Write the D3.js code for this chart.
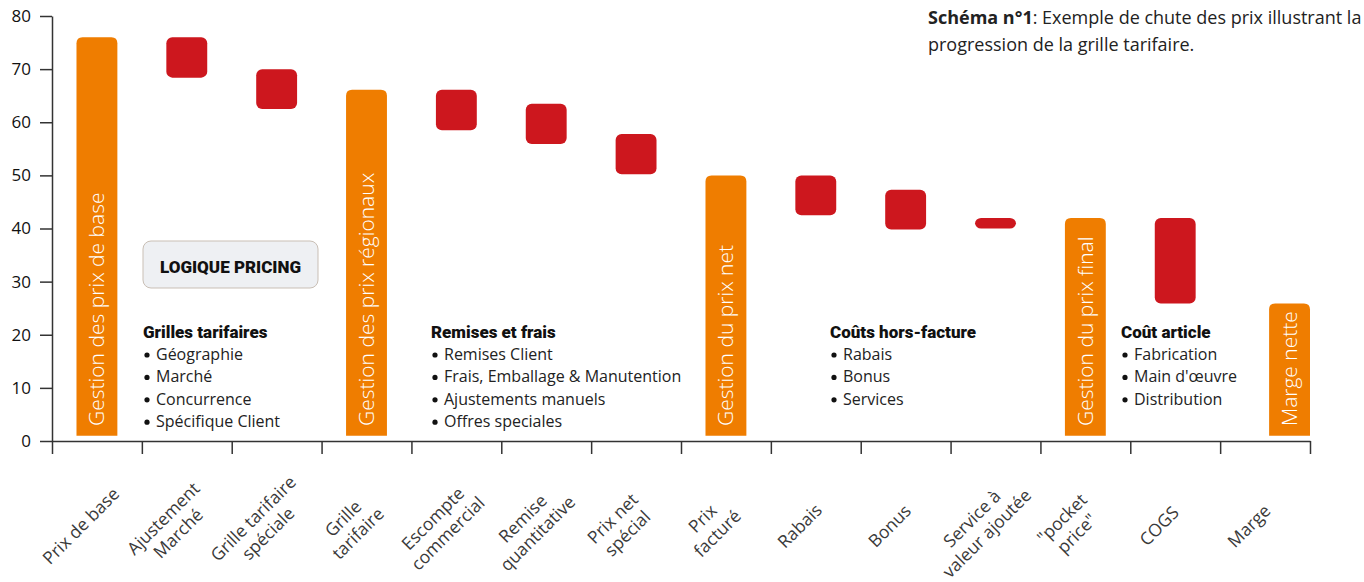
<!DOCTYPE html>
<meta charset="utf-8">
<script src="https://d3js.org/d3.v7.min.js"></script>
<style>
  body { margin: 0; background: #fff; }
  text { font-family: "Open Sans", "Noto Sans", sans-serif; }
  .head { font-family: Roboto, "Liberation Sans Narrow", sans-serif; font-weight: 900; }
</style>
<body>
<div id="chart"></div>
<script>
// categories and waterfall values (start -> end)
var categories = ["Prix de base", "Ajustement|Marché", "Grille tarifaire|spéciale", "Grille|tarifaire",
  "Escompte|commercial", "Remise|quantitative", "Prix net|spécial", "Prix|facturé", "Rabais", "Bonus",
  "Service à|valeur ajoutée", "\"pocket|price\"", "COGS", "Marge"];
var kinds = ["total", "drop", "drop", "total", "drop", "drop", "drop", "total", "drop", "drop", "drop", "total", "drop", "total"];
var startVals = [1, 76, 70, 1, 66.1, 63.5, 57.8, 1, 50, 47.3, 42, 1, 42, 1];
var endVals = [76, 68.4, 62.5, 66.1, 58.5, 55.9, 50.2, 50, 42.5, 39.8, 40, 42, 25.9, 25.9];
var barLabels = ["Gestion des prix de base", "", "", "Gestion des prix régionaux", "", "", "",
  "Gestion du prix net", "", "", "", "Gestion du prix final", "", "Marge nette"];
var yTicks = [0, 10, 20, 30, 40, 50, 60, 70, 80];

var notes = [
  {x: 143, y: 338, title: "Grilles tarifaires", items: ["Géographie", "Marché", "Concurrence", "Spécifique Client"]},
  {x: 431, y: 338, title: "Remises et frais", items: ["Remises Client", "Frais, Emballage & Manutention", "Ajustements manuels", "Offres speciales"]},
  {x: 830, y: 338, title: "Coûts hors-facture", items: ["Rabais", "Bonus", "Services"]},
  {x: 1121, y: 338, title: "Coût article", items: ["Fabrication", "Main d'œuvre", "Distribution"]}
];

var margin = {top: 16, left: 52},
    width = 1258, height = 425;

var svg = d3.select("#chart").append("svg")
    .attr("width", 1364).attr("height", 582);
var g = svg.append("g").attr("transform", "translate(" + margin.left + "," + margin.top + ")");

var x = d3.scaleBand().domain(d3.range(categories.length)).range([0, width])
    .paddingInner(0.545).paddingOuter(0.2725);
var xb = d3.scaleLinear().domain([0, categories.length]).range([0, width]);
var y = d3.scaleLinear().domain([0, 80]).range([height, 0]);

var orange = "#EF7D00", red = "#CD171E";

var data = categories.map(function(c, i) {
  return {i: i, kind: kinds[i], a: startVals[i], b: endVals[i], label: barLabels[i]};
});

// the last bar sits against the right end of the axis
function bx(i) {
  return x(i) + (i == categories.length - 1 ? x.step() * x.paddingOuter() : 0);
}

function topRounded(x0, y0, w, h, r) {
  return "M" + x0 + "," + (y0 + h) + "V" + (y0 + r) + "Q" + x0 + "," + y0 + " " + (x0 + r) + "," + y0 +
    "H" + (x0 + w - r) + "Q" + (x0 + w) + "," + y0 + " " + (x0 + w) + "," + (y0 + r) + "V" + (y0 + h) + "Z";
}

g.selectAll(".total").data(data.filter(function(d) { return d.kind == "total"; }))
  .enter().append("path")
    .attr("fill", orange)
    .attr("d", function(d) {
      var top = y(Math.max(d.a, d.b)), bot = y(Math.min(d.a, d.b));
      return topRounded(bx(d.i), top, x.bandwidth(), bot - top, 6);
    });

g.selectAll(".drop").data(data.filter(function(d) { return d.kind == "drop"; }))
  .enter().append("rect")
    .attr("fill", red)
    .attr("x", function(d) { return bx(d.i); })
    .attr("y", function(d) { return y(Math.max(d.a, d.b)); })
    .attr("width", x.bandwidth())
    .attr("height", function(d) { return Math.abs(y(d.a) - y(d.b)); })
    .attr("rx", 6);

// vertical labels inside orange bars
g.selectAll(".blab").data(data.filter(function(d) { return d.label; }))
  .enter().append("text")
    .attr("transform", function(d) {
      return "translate(" + (bx(d.i) + x.bandwidth() / 2) + "," + (y(0) - 15) + ") rotate(-90)";
    })
    .attr("dy", "0.36em")
    .attr("fill", "#fff")
    .style("font-size", "21px")
    .style("font-weight", 300)
    .text(function(d) { return d.label; });

// axes
var yAxis = g.append("g")
  .call(d3.axisLeft(y).tickValues(yTicks).tickSize(12).tickSizeOuter(0).tickPadding(9));
yAxis.selectAll("text").style("font-size", "17px").attr("fill", "#111")
  .style("font-family", "'Open Sans', sans-serif");
yAxis.selectAll("line, path").attr("stroke", "#333").attr("stroke-width", 1.5);

var xAxis = g.append("g").attr("transform", "translate(0," + height + ")")
  .call(d3.axisBottom(xb).ticks(categories.length).tickSize(13).tickSizeOuter(0).tickFormat(""));
xAxis.selectAll("line, path").attr("stroke", "#333").attr("stroke-width", 1.5);

// rotated category labels
var cl = g.selectAll(".cat").data(data).enter().append("g")
  .attr("transform", function(d) {
    return "translate(" + (x(d.i) + x.bandwidth() / 2 - 16) + "," + (height + 85) + ") rotate(-45)";
  });
cl.each(function(d) {
  var lines = categories[d.i].split("|");
  var sel = d3.select(this);
  lines.forEach(function(t, k) {
    sel.append("text")
      .attr("text-anchor", "middle")
      .attr("y", (k - (lines.length - 1) / 2) * 21)
      .attr("dy", "0.35em")
      .attr("fill", "#3a3a3a")
      .style("font-size", "17.5px")
      .text(t);
  });
});

// LOGIQUE PRICING box
svg.append("rect").attr("x", 143).attr("y", 241).attr("width", 175).attr("height", 47)
  .attr("rx", 8).attr("fill", "#eef0f3").attr("stroke", "#c9bfb5").attr("stroke-width", 1);
svg.append("text").attr("class", "head").attr("x", 230.5).attr("y", 273)
  .attr("text-anchor", "middle").style("font-size", "17px").attr("fill", "#111")
  .text("LOGIQUE PRICING");

// annotation blocks
notes.forEach(function(n) {
  svg.append("text").attr("class", "head").attr("x", n.x).attr("y", n.y)
    .style("font-size", "17px").attr("fill", "#111").text(n.title);
  n.items.forEach(function(it, k) {
    var yy = n.y + 22 + k * 22.4;
    svg.append("circle").attr("cx", n.x + 4).attr("cy", yy - 5).attr("r", 2.6).attr("fill", "#111");
    svg.append("text").attr("x", n.x + 13).attr("y", yy)
      .style("font-size", "16px").attr("fill", "#222").text(it);
  });
});

// title top right
var title = svg.append("text").attr("x", 928).attr("y", 24).style("font-size", "18px").attr("fill", "#222");
title.append("tspan").style("font-weight", "bold").text("Schéma n°1");
title.append("tspan").text(": Exemple de chute des prix illustrant la");
svg.append("text").attr("x", 928).attr("y", 51).style("font-size", "18px").attr("fill", "#222")
  .text("progression de la grille tarifaire.");
</script>
</body>
